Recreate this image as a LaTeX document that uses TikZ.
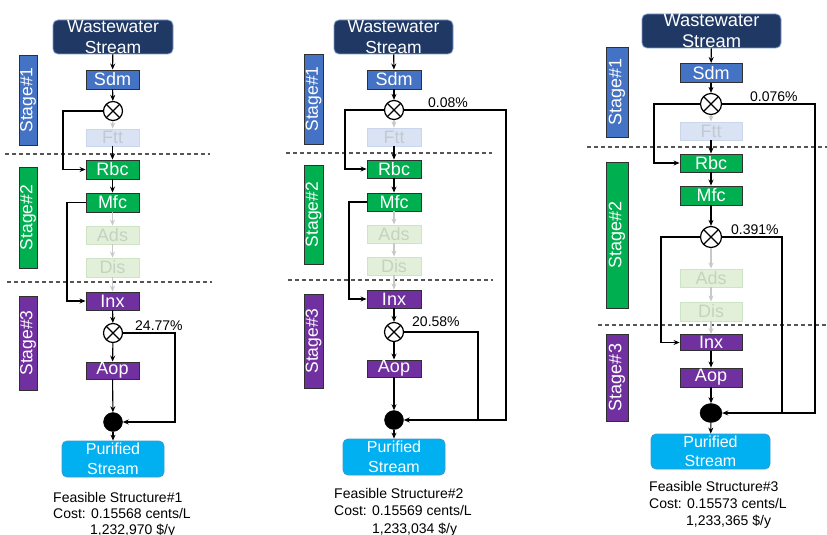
\documentclass[tikz,border=0pt]{standalone}
\usepackage{fontspec}
\setmainfont{Liberation Sans}
\usetikzlibrary{arrows.meta,shapes.geometric}
\definecolor{navy}{HTML}{203864}
\definecolor{navyedge}{HTML}{7F9CC9}
\definecolor{sblue}{HTML}{4472C4}
\definecolor{sgreen}{HTML}{00B050}
\definecolor{spurple}{HTML}{7030A0}
\definecolor{sky}{HTML}{00B0F0}
\definecolor{skyedge}{HTML}{3C9AD0}
\definecolor{edge}{HTML}{303030}
\definecolor{fbfill}{HTML}{DAE3F3}
\definecolor{fbedge}{HTML}{C9D6EC}
\definecolor{fbtext}{HTML}{C3C9D3}
\definecolor{fgfill}{HTML}{E2F0D9}
\definecolor{fgedge}{HTML}{CFE3C6}
\definecolor{fgtext}{HTML}{C6D2C0}
\definecolor{farrow}{HTML}{C8C8C8}
\definecolor{dashc}{HTML}{555555}
\tikzset{
  unit/.style={draw=edge, line width=0.9pt, inner sep=0pt, text=white, minimum width=53pt, minimum height=19pt, font=\fontsize{18}{18}\selectfont},
  bigunit/.style={unit, minimum width=62pt},
  bluebox/.style={fill=sblue},
  greenbox/.style={fill=sgreen},
  purplebox/.style={fill=spurple},
  fadeblue/.style={fill=fbfill, draw=fbedge, text=fbtext},
  fadegreen/.style={fill=fgfill, draw=fgedge, text=fgtext},
  source/.style={fill=navy, draw=navyedge, line width=0.8pt, rounded corners=5pt, text=white, inner sep=0pt, align=center, font=\fontsize{17.5}{21}\selectfont},
  sink/.style={fill=sky, draw=skyedge, line width=0.8pt, rounded corners=5pt, text=white, inner sep=0pt, align=center, font=\fontsize{16}{20}\selectfont},
  mixer/.style={circle, draw=black, fill=white, line width=1.2pt, minimum size=19pt, inner sep=0pt,
    path picture={\draw[line width=1.2pt] (path picture bounding box.north west) -- (path picture bounding box.south east)
      (path picture bounding box.south west) -- (path picture bounding box.north east);}},
  joiner/.style={circle, fill=black, draw=black, minimum size=19pt, inner sep=0pt},
  stagebar/.style={draw=edge, line width=0.9pt, rotate=90, inner sep=0pt, text=white, font=\fontsize{17.5}{17.5}\selectfont},
  arr/.style={-{Stealth[length=6pt,width=5pt]}, line width=1.1pt, draw=black},
  farr/.style={-{Stealth[length=6pt,width=5pt]}, line width=1.1pt, draw=farrow},
  wire/.style={line width=1.1pt, draw=black},
  dashline/.style={dashed, dash pattern=on 4pt off 3pt, line width=1.2pt, draw=dashc},
  pct/.style={anchor=base west, inner sep=0pt, font=\fontsize{14}{14}\selectfont},
  caption/.style={anchor=base west, inner sep=0pt, font=\fontsize{14}{14}\selectfont}
}
\begin{document}
\begin{tikzpicture}[x=1pt,y=-1pt]
\useasboundingbox[fill=white] (0,0) rectangle (827,535);

%% ---------------- Panel 1 ----------------
\draw[dashline] (5,154) -- (210,154);
\draw[dashline] (7,282) -- (212,282);
\node[stagebar, fill=sblue, minimum width=90pt, minimum height=18pt] (p1s1) at (28,100) {Stage\#1};
\node[stagebar, fill=sgreen, minimum width=101pt, minimum height=18pt] (p1s2) at (28,217.5) {Stage\#2};
\node[stagebar, fill=spurple, minimum width=94pt, minimum height=18pt] (p1s3) at (28,343) {Stage\#3};

\node[source, minimum width=120pt, minimum height=34pt] (p1ww) at (113,37) {Wastewater\\Stream};
\node[unit, bluebox] (p1sdm) at (112.5,79.5) {Sdm};
\node[mixer] (p1m1) at (113,111) {};
\node[unit, fadeblue, minimum height=17pt] (p1ftt) at (112.5,137.5) {Ftt};
\node[unit, greenbox] (p1rbc) at (112.5,169.5) {Rbc};
\node[unit, greenbox] (p1mfc) at (112.5,202.5) {Mfc};
\node[unit, fadegreen, minimum height=18pt] (p1ads) at (112.5,235) {Ads};
\node[unit, fadegreen] (p1dis) at (112.5,267.5) {Dis};
\node[unit, purplebox, minimum height=18pt] (p1inx) at (112.5,301) {Inx};
\node[mixer] (p1m2) at (113,333) {};
\node[unit, purplebox, minimum height=17pt] (p1aop) at (112.5,370.5) {Aop};
\node[joiner] (p1dot) at (113,422) {};
\node[sink, minimum width=102pt, minimum height=36pt] (p1pur) at (113,459) {Purified\\Stream};

\draw[arr] (p1ww) -- (p1sdm);
\draw[arr] (p1sdm) -- (p1m1);
\draw[farr] (p1m1) -- (p1ftt);
\draw[arr] (p1ftt) -- (p1rbc);
\coordinate (p1b1) at (63,111);
\draw[arr] (p1m1.west) -- (p1b1) |- (p1rbc.west);
\draw[arr] (p1rbc) -- (p1mfc);
\draw[farr] (p1mfc) -- (p1ads);
\draw[farr] (p1ads) -- (p1dis);
\draw[farr] (p1dis) -- (p1inx);
\coordinate (p1b2) at (67,202.5);
\draw[arr] (p1mfc.west) -- (p1b2) |- (p1inx.west);
\draw[arr] (p1inx) -- (p1m2);
\draw[arr] (p1m2) -- (p1aop);
\coordinate (p1r2) at (175,422);
\draw[arr] (p1m2.east) -| (p1r2) -- (p1dot.east);
\draw[arr] (p1aop) -- (p1dot);
\draw[arr] (p1dot) -- (p1pur);
\node[pct] (p1p2) at (135,330) {24.77\%};
\node[caption] (p1c1) at (53,502) {Feasible Structure\#1};
\node[caption] (p1c2) at (53,518.5) {Cost: 0.15568 cents/L};
\node[caption] (p1c3) at (90,534) {1,232,970 \$/y};

%% ---------------- Panel 2 ----------------
\draw[dashline] (286,153) -- (492,153);
\draw[dashline] (288,280) -- (493,280);
\node[stagebar, fill=sblue, minimum width=90pt, minimum height=19pt] (p2s1) at (313.5,99) {Stage\#1};
\node[stagebar, fill=sgreen, minimum width=99pt, minimum height=19pt] (p2s2) at (313.5,214.5) {Stage\#2};
\node[stagebar, fill=spurple, minimum width=94pt, minimum height=19pt] (p2s3) at (313.5,341) {Stage\#3};

\node[source, minimum width=119pt, minimum height=34pt] (p2ww) at (393.5,37) {Wastewater\\Stream};
\node[unit, bluebox, minimum width=54pt] (p2sdm) at (394,79.5) {Sdm};
\node[mixer] (p2m1) at (394,110) {};
\node[unit, fadeblue, minimum width=54pt, minimum height=18pt] (p2ftt) at (394,137) {Ftt};
\node[unit, greenbox, minimum width=54pt, minimum height=18pt] (p2rbc) at (394,169) {Rbc};
\node[unit, greenbox, minimum width=54pt, minimum height=18pt] (p2mfc) at (394,202) {Mfc};
\node[unit, fadegreen, minimum width=54pt, minimum height=18pt] (p2ads) at (394,234) {Ads};
\node[unit, fadegreen, minimum width=54pt, minimum height=18pt] (p2dis) at (394,266) {Dis};
\node[unit, purplebox, minimum width=54pt, minimum height=18pt] (p2inx) at (394,299) {Inx};
\node[mixer] (p2m2) at (394,332) {};
\node[unit, purplebox, minimum width=54pt, minimum height=17pt] (p2aop) at (394,368.5) {Aop};
\node[joiner] (p2dot) at (394,420) {};
\node[sink, minimum width=102pt, minimum height=36pt] (p2pur) at (394,457) {Purified\\Stream};

\draw[arr] (p2ww) -- (p2sdm);
\draw[arr] (p2sdm) -- (p2m1);
\draw[farr] (p2m1) -- (p2ftt);
\draw[arr] (p2ftt) -- (p2rbc);
\coordinate (p2b1) at (345,110);
\draw[arr] (p2m1.west) -- (p2b1) |- (p2rbc.west);
\draw[arr] (p2rbc) -- (p2mfc);
\draw[farr] (p2mfc) -- (p2ads);
\draw[farr] (p2ads) -- (p2dis);
\draw[farr] (p2dis) -- (p2inx);
\coordinate (p2b2) at (349,202);
\draw[arr] (p2mfc.west) -- (p2b2) |- (p2inx.west);
\draw[arr] (p2inx) -- (p2m2);
\draw[arr] (p2m2) -- (p2aop);
\coordinate (p2r1) at (506,420);
\coordinate (p2r2) at (478,420);
\draw[arr] (p2m1.east) -| (p2r1) -- (p2dot.east);
\draw[wire] (p2m2.east) -| (p2r2);
\draw[arr] (p2aop) -- (p2dot);
\draw[arr] (p2dot) -- (p2pur);
\node[pct] (p2p1) at (428,107) {0.08\%};
\node[pct] (p2p2) at (412,326) {20.58\%};
\node[caption] (p2c1) at (334,498) {Feasible Structure\#2};
\node[caption] (p2c2) at (334,515.5) {Cost: 0.15569 cents/L};
\node[caption] (p2c3) at (372,533) {1,233,034 \$/y};

%% ---------------- Panel 3 ----------------
\draw[dashline] (587,147) -- (827,147);
\draw[dashline] (598,325) -- (827,325);
\node[stagebar, fill=sblue, minimum width=90pt, minimum height=22pt, font=\fontsize{18}{18}\selectfont] (p3s1) at (617,92) {Stage\#1};
\node[stagebar, fill=sgreen, minimum width=146pt, minimum height=22pt, font=\fontsize{18}{18}\selectfont] (p3s2) at (617,235) {Stage\#2};
\node[stagebar, fill=spurple, minimum width=87pt, minimum height=22pt, font=\fontsize{18}{18}\selectfont] (p3s3) at (617,377.5) {Stage\#3};

\node[source, minimum width=139pt, minimum height=34pt, font=\fontsize{18.3}{21}\selectfont] (p3ww) at (711.5,31) {Wastewater\\Stream};
\node[bigunit, bluebox] (p3sdm) at (711,73) {Sdm};
\node[mixer, minimum size=21pt] (p3m1) at (711,104) {};
\node[bigunit, fadeblue, minimum height=18pt] (p3ftt) at (711,131) {Ftt};
\node[bigunit, greenbox, minimum height=18pt] (p3rbc) at (711,163) {Rbc};
\node[bigunit, greenbox] (p3mfc) at (711,195.5) {Mfc};
\node[mixer, minimum size=21pt] (p3m2) at (711,237) {};
\node[bigunit, fadegreen, minimum height=18pt] (p3ads) at (711,278) {Ads};
\node[bigunit, fadegreen] (p3dis) at (711,311.5) {Dis};
\node[bigunit, purplebox, minimum height=16pt] (p3inx) at (711,342.5) {Inx};
\node[bigunit, purplebox] (p3aop) at (711,377.5) {Aop};
\node[joiner, ellipse, minimum width=22pt, minimum height=19pt] (p3dot) at (711,413) {};
\node[sink, minimum width=119pt, minimum height=35pt, font=\fontsize{16}{19.5}\selectfont] (p3pur) at (710.5,451.5) {Purified\\Stream};

\draw[arr] (p3ww) -- (p3sdm);
\draw[arr] (p3sdm) -- (p3m1);
\draw[farr] (p3m1) -- (p3ftt);
\draw[arr] (p3ftt) -- (p3rbc);
\coordinate (p3b1) at (654,104);
\draw[arr] (p3m1.west) -- (p3b1) |- (p3rbc.west);
\draw[arr] (p3rbc) -- (p3mfc);
\draw[arr] (p3mfc) -- (p3m2);
\draw[farr] (p3m2) -- (p3ads);
\draw[farr] (p3ads) -- (p3dis);
\draw[farr] (p3dis) -- (p3inx);
\coordinate (p3b2) at (661,237);
\draw[arr] (p3m2.west) -- (p3b2) |- (p3inx.west);
\draw[arr] (p3inx) -- (p3aop);
\coordinate (p3r1) at (815,413);
\coordinate (p3r2) at (782,413);
\draw[arr] (p3m1.east) -| (p3r1) -- (p3dot.east);
\draw[wire] (p3m2.east) -| (p3r2);
\draw[arr] (p3aop) -- (p3dot);
\draw[arr] (p3dot) -- (p3pur);
\node[pct] (p3p1) at (750,101) {0.076\%};
\node[pct] (p3p2) at (731,234) {0.391\%};
\node[caption] (p3c1) at (649,491) {Feasible Structure\#3};
\node[caption] (p3c2) at (649,508) {Cost: 0.15573 cents/L};
\node[caption] (p3c3) at (686,525) {1,233,365 \$/y};
\end{tikzpicture}
\end{document}
